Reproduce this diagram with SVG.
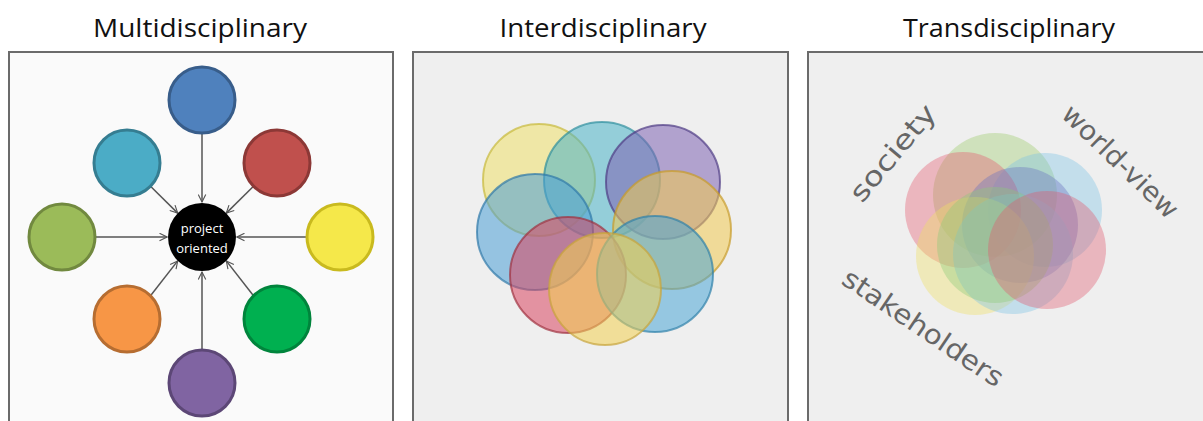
<svg xmlns="http://www.w3.org/2000/svg" width="1203" height="421" viewBox="0 0 1203 421">
<style>
.title{font-family:"Open Sans","Liberation Sans",sans-serif;font-size:26px;fill:#111;text-anchor:middle}
.frame{stroke:#6b6b6b;stroke-width:2}
.node{stroke-width:3}
.conn line{stroke:#555;stroke-width:1.5;marker-end:url(#arr)}
.ctext{font-family:"Open Sans","Liberation Sans",sans-serif;font-size:13px;fill:#fff;text-anchor:middle}
.ic{fill-opacity:0.55;stroke-width:2;stroke-opacity:0.7}
.tc{fill-opacity:0.38;stroke:none}
.hand{font-family:"DejaVu Sans",sans-serif;font-size:27px;fill:#666}
</style>
<defs>
<marker id="arr" viewBox="0 0 12 12" refX="11" refY="6" markerWidth="9" markerHeight="9" markerUnits="userSpaceOnUse" orient="auto">
<path d="M1,1 L11,6 L1,11" fill="none" stroke="#555" stroke-width="1.5"/>
</marker>
</defs>
<rect width="1203" height="421" fill="#fff"/>

<!-- Titles -->
<text class="title" x="200" y="37" textLength="214" lengthAdjust="spacingAndGlyphs">Multidisciplinary</text>
<text class="title" x="603" y="37" textLength="207" lengthAdjust="spacingAndGlyphs">Interdisciplinary</text>
<text class="title" x="1009" y="37" textLength="212" lengthAdjust="spacingAndGlyphs">Transdisciplinary</text>

<!-- Panel 1 -->
<g id="panel1">
<rect class="frame" x="9" y="52" width="384" height="380" fill="#fafafa"/>
</g>
<g id="connectors" class="conn">
<line x1="202" y1="133" x2="202" y2="202"/>
<line x1="202" y1="350" x2="202" y2="272"/>
<line x1="95" y1="237" x2="167" y2="237"/>
<line x1="307" y1="237" x2="237" y2="237"/>
<line x1="150.5" y1="186.2" x2="177.7" y2="213.1"/>
<line x1="253.5" y1="186.2" x2="226.3" y2="213.1"/>
<line x1="150.5" y1="295.8" x2="177.7" y2="260.9"/>
<line x1="253.5" y1="295.8" x2="226.3" y2="260.9"/>
</g>
<g id="n-blue"><circle class="node" cx="202" cy="100" r="33" fill="#4F81BD" stroke="#385D8A"/></g>
<g id="n-teal"><circle class="node" cx="127" cy="163" r="33" fill="#4BACC6" stroke="#357D91"/></g>
<g id="n-red"><circle class="node" cx="277" cy="163" r="33" fill="#C0504D" stroke="#8C3836"/></g>
<g id="n-olive"><circle class="node" cx="62" cy="237" r="33" fill="#9BBB59" stroke="#71893F"/></g>
<g id="n-yellow"><circle class="node" cx="340" cy="237" r="33" fill="#F5E84A" stroke="#C9BA1E"/></g>
<g id="n-orange"><circle class="node" cx="127" cy="319" r="33" fill="#F79646" stroke="#B66D31"/></g>
<g id="n-green"><circle class="node" cx="277" cy="319" r="33" fill="#00B050" stroke="#00843C"/></g>
<g id="n-purple"><circle class="node" cx="202" cy="383" r="33" fill="#8064A2" stroke="#5C4776"/></g>
<g id="n-center">
<circle cx="202" cy="237" r="34" fill="#000"/>
<text class="ctext" x="202" y="233">project</text>
<text class="ctext" x="202" y="253">oriented</text>
</g>

<!-- Panel 2 -->
<g id="panel2">
<rect class="frame" x="413" y="52" width="375" height="380" fill="#efefef"/>
<circle class="ic" cx="539" cy="180" r="56" fill="#EEE06A" stroke="#C8B93A"/>
<circle class="ic" cx="602" cy="180" r="58" fill="#48B2C6" stroke="#2E8E9E"/>
<circle class="ic" cx="663" cy="182" r="57" fill="#7E62B2" stroke="#4E3C84"/>
<circle class="ic" cx="672" cy="230" r="59" fill="#F0C850" stroke="#C89B2A"/>
<circle class="ic" cx="535" cy="232" r="58" fill="#4A9ED6" stroke="#2E78A8"/>
<circle class="ic" cx="568" cy="275" r="58" fill="#D84660" stroke="#A0303F"/>
<circle class="ic" cx="655" cy="274" r="58" fill="#4AA6D6" stroke="#2E80AA"/>
<circle class="ic" cx="605" cy="289" r="56" fill="#F2D050" stroke="#C8A43A"/>
</g>

<!-- Panel 3 -->
<g id="panel3">
<rect class="frame" x="808" y="52" width="400" height="380" fill="#efefef"/>
<circle class="tc" cx="995" cy="195" r="62" fill="#9ACB6A"/>
<circle class="tc" cx="1045" cy="210" r="57" fill="#7CC3E6"/>
<circle class="tc" cx="963" cy="210" r="58" fill="#E45A6E"/>
<circle class="tc" cx="1020" cy="225" r="58" fill="#6A70C0"/>
<circle class="tc" cx="975" cy="256" r="59" fill="#F0E060"/>
<circle class="tc" cx="1013" cy="254" r="60" fill="#7CC3E6"/>
<circle class="tc" cx="995" cy="245" r="58" fill="#8CCB7A"/>
<circle class="tc" cx="1047" cy="250" r="59" fill="#E05A6E"/>
<text class="hand" transform="translate(862,204) rotate(-50)" textLength="118" lengthAdjust="spacingAndGlyphs">society</text>
<text class="hand" transform="translate(1060,116) rotate(44)" textLength="150" lengthAdjust="spacingAndGlyphs">world-view</text>
<text class="hand" transform="translate(840,283) rotate(34)" textLength="188" lengthAdjust="spacingAndGlyphs">stakeholders</text>
</g>
</svg>
